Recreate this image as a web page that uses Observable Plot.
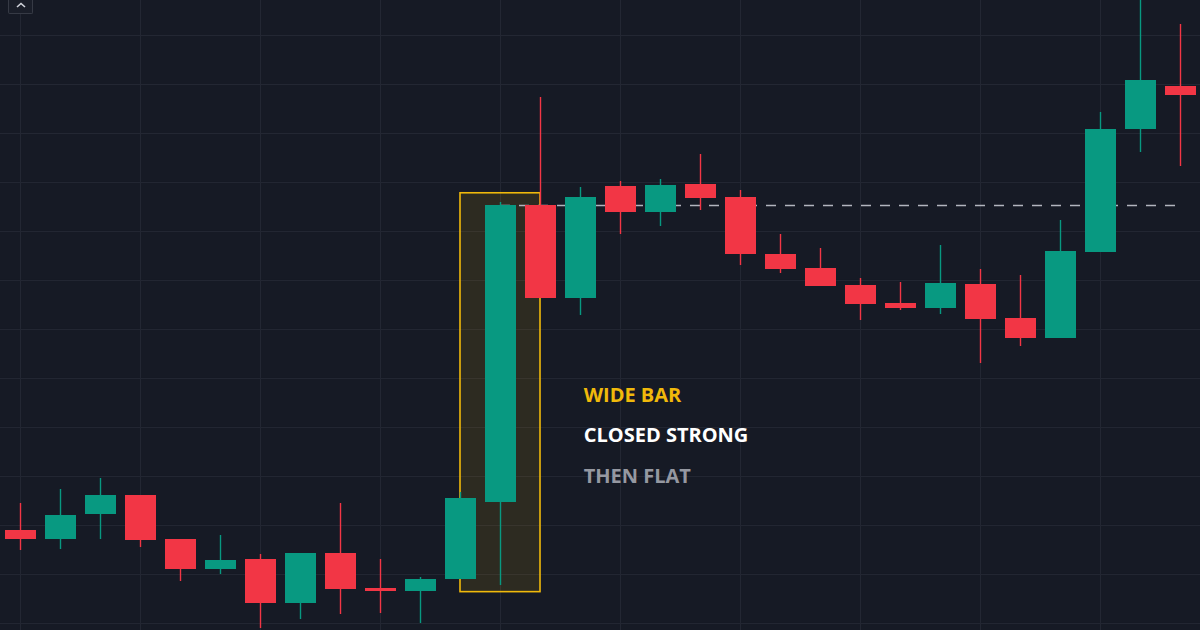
<!DOCTYPE html>
<html>
<head>
<meta charset="utf-8">
<script src="https://cdn.jsdelivr.net/npm/d3@7"></script>
<script src="https://cdn.jsdelivr.net/npm/@observablehq/plot@0.6"></script>
<style>
  html, body { margin: 0; padding: 0; background: #161a25; }
  #wrap { position: relative; width: 1200px; height: 630px; overflow: hidden; }
  #btn { position: absolute; left: 8px; top: -2px; width: 23px; height: 15px; border: 1px solid #363a45; border-top: none; border-radius: 0 0 2px 2px; background: #1a1e29; }
  #btn svg { position: absolute; left: 7px; top: 4px; }
</style>
</head>
<body>
<div id="wrap">
  <div id="chart"></div>
  <div id="btn"><svg width="10" height="6" viewBox="0 0 10 6"><path d="M1 5 L5 1.5 L9 5" fill="none" stroke="#d1d4dc" stroke-width="1.6"/></svg></div>
</div>
<script>
// ---- data (prices) ----
const opens  = [118.98,117.14,122.24,126.12,117.14,111.02,113.06,104.08,114.29,107.14,106.53,108.98,124.69,185.31,166.33,189.18,183.88,189.59,186.94,175.31,172.45,168.98,165.31,164.29,169.18,162.24,158.16,175.71,200.82,209.59];
const closes = [117.14,122.04,126.12,116.94,111.02,112.86,104.08,114.29,106.94,106.53,108.98,125.51,185.31,166.33,186.94,183.88,189.39,186.73,175.31,172.24,168.78,165.10,164.29,169.39,162.04,158.16,175.92,200.82,210.82,207.76];
const highs  = [124.49,127.35,129.59,126.12,117.14,117.96,114.08,114.29,124.49,113.06,109.39,126.73,185.92,207.35,188.98,190.20,190.61,195.71,188.37,179.39,176.53,170.41,169.59,177.14,172.24,171.02,182.24,204.29,228.16,222.24];
const lows   = [114.90,115.10,117.14,115.51,108.57,110.00,98.98,100.82,101.84,102.04,100.00,108.98,107.76,166.33,162.86,179.39,181.02,184.29,173.06,171.43,168.78,161.84,163.88,163.06,153.06,156.53,158.16,175.71,196.12,193.27];

const xGridTicks = [0,3,6,9,12,15,18,21,24,27];
const yGridTicks = [100,110,120,130,140,150,160,170,180,190,200,210,220];

// highlighted wide bar box and level
const boxX = [11, 13];
const boxY = [106.4, 187.8];
const level = 185.3;
const levelX = [12, 29];

// annotations
const labels = ["WIDE BAR", "CLOSED STRONG", "THEN FLAT"];
const labelY = [146.6, 138.4, 130.0];
const labelColors = ["#f0b90b", "#ffffff", "#9598a1"];
const labelX = 14.08;

const UP = "#089981", DOWN = "#f23645";

const candles = opens.map((o, i) => ({i, open: o, close: closes[i], high: highs[i], low: lows[i]}));
const notes = labels.map((t, k) => ({t, y: labelY[k], c: labelColors[k]}));

const chart = Plot.plot({
  width: 1200,
  height: 630,
  margin: 0,
  style: {background: "#161a25", overflow: "hidden"},
  x: {domain: [-0.5, 29.5], axis: null},
  y: {domain: [98.571, 227.143], axis: null},
  marks: [
    Plot.ruleX(xGridTicks, {x: d => d, stroke: "#232733", strokeWidth: 1}),
    Plot.ruleY(yGridTicks, {y: d => d, stroke: "#232733", strokeWidth: 1}),
    Plot.rect([0], {x1: () => boxX[0], x2: () => boxX[1], y1: () => boxY[0], y2: () => boxY[1],
      fill: "#f0b90b", fillOpacity: 0.11, stroke: "#f0b90b", strokeWidth: 1.6}),
    Plot.ruleY([level], {y: d => d, x1: levelX[0], x2: levelX[1], stroke: "#b2b5be", strokeWidth: 1.6, strokeDasharray: "10,9"}),
    Plot.ruleX(candles, {x: "i", y1: "low", y2: "high", stroke: d => d.close >= d.open ? UP : DOWN, strokeWidth: 1.4}),
    Plot.ruleX(candles, {x: "i", y1: "open", y2: "close", stroke: d => d.close >= d.open ? UP : DOWN, strokeWidth: 31}),
    Plot.text(notes, {x: () => labelX, y: "y", text: "t", fill: "c", textAnchor: "start", lineAnchor: "middle",
      fontSize: 20, fontWeight: 700, fontFamily: "'Open Sans', 'Noto Sans', sans-serif"})
  ]
});
document.getElementById("chart").appendChild(chart);
</script>
</body>
</html>
